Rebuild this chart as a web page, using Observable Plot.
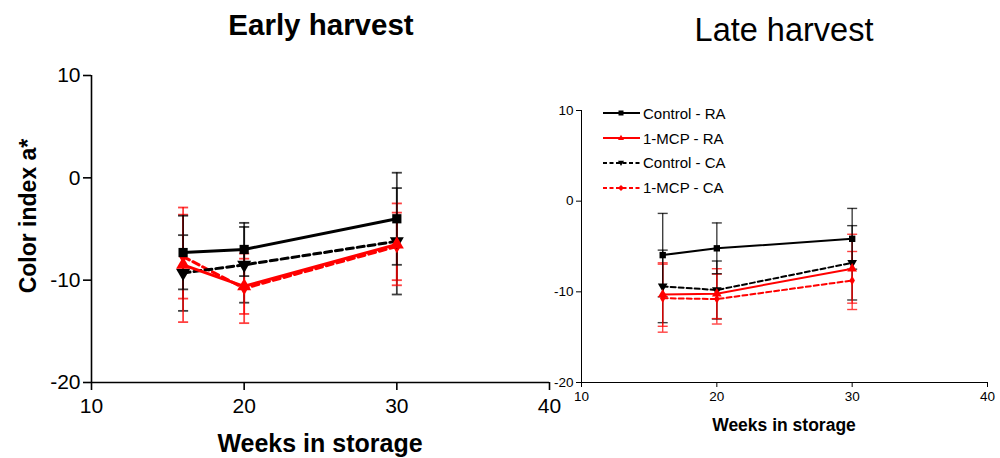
<!DOCTYPE html>
<html><head><meta charset="utf-8">
<script src="https://cdn.jsdelivr.net/npm/d3@7"></script>
<script src="https://cdn.jsdelivr.net/npm/@observablehq/plot@0.6"></script>
<style>
body{margin:0;background:#fff;font-family:"Liberation Sans",Arial,sans-serif;}
#root{position:relative;width:1000px;height:458px;overflow:hidden;background:#fff;}
.abs{position:absolute;}
.ctr{position:absolute;transform:translate(-50%,-50%);white-space:nowrap;color:#000;line-height:1;}
.leg{position:absolute;left:603px;top:101px;font-size:15px;color:#000;}
.leg div{height:24.8px;display:flex;align-items:center;}
.leg svg{margin-right:3px;}
</style></head><body><div id="root"></div>
<script>
const weeks = [16, 20, 30];
const xTicks = [10, 20, 30, 40];
const yTicks = [-20, -10, 0, 10];
const seriesNames = ["Control - RA", "1-MCP - RA", "Control - CA", "1-MCP - CA"];
const seriesColors = ["#000000", "#ff0000", "#000000", "#ff0000"];
const seriesDashed = [false, false, true, true];
const seriesSymbols = ["square", "triangle", "triangle-down", "diamond"];

// Early harvest
const earlyControlRA = [-7.3, -7.0, -4.0];
const earlyControlRASd = [3.6, 2.6, 4.5];
const early1MCPRA = [-8.5, -10.6, -6.5];
const early1MCPRASd = [5.6, 2.7, 4.0];
const earlyControlCA = [-9.3, -8.5, -6.2];
const earlyControlCASd = [3.7, 3.7, 5.2];
const early1MCPCA = [-7.7, -10.8, -6.7];
const early1MCPCASd = [4.1, 3.4, 3.3];

// Late harvest
const lateControlRA = [-5.95, -5.2, -4.15];
const lateControlRASd = [4.6, 2.8, 3.35];
const late1MCPRA = [-10.3, -10.2, -7.45];
const late1MCPRASd = [3.5, 2.75, 3.8];
const lateControlCA = [-9.4, -9.8, -6.8];
const lateControlCASd = [4.0, 3.2, 4.1];
const late1MCPCA = [-10.7, -10.8, -8.75];
const late1MCPCASd = [3.75, 2.75, 3.2];

function rows(means, sds) {
  const out = [];
  seriesNames.forEach((s, i) => {
    weeks.forEach((w, j) => out.push({series: s, idx: i, week: w, mean: means[i][j], sd: sds[i][j]}));
  });
  return out;
}
const earlyRows = rows([earlyControlRA, early1MCPRA, earlyControlCA, early1MCPCA],
                       [earlyControlRASd, early1MCPRASd, earlyControlCASd, early1MCPCASd]);
const lateRows = rows([lateControlRA, late1MCPRA, lateControlCA, late1MCPCA],
                      [lateControlRASd, late1MCPRASd, lateControlCASd, late1MCPCASd]);

const FONT = "'Liberation Sans', Arial, sans-serif";

function panel(data, o) {
  const marks = [
    Plot.axisY({ticks: yTicks, tickSize: o.tick, tickPadding: o.padY, label: null, tickFormat: d => String(d), strokeWidth: o.axisW, fontSize: o.fs, fontFamily: FONT}),
    Plot.axisX({ticks: xTicks, tickSize: o.tick, tickPadding: o.padX, label: null, tickFormat: d => String(d), strokeWidth: o.axisW, fontSize: o.fs, fontFamily: FONT}),
    Plot.ruleX([10], {strokeWidth: o.axisW}),
    Plot.ruleY([-20], {strokeWidth: o.axisW})
  ];
  [3, 2, 1, 0].forEach(i => {
    const d = data.filter(r => r.idx === i);
    const c = seriesColors[i];
    marks.push(Plot.ruleX(d, {x: "week", y1: r => r.mean - r.sd, y2: r => r.mean + r.sd, stroke: c, strokeWidth: o.errW, strokeOpacity: 0.75}));
    marks.push(Plot.link(d, {x1: r => r.week - o.cap, x2: r => r.week + o.cap, y1: r => r.mean + r.sd, y2: r => r.mean + r.sd, stroke: c, strokeWidth: o.errW, strokeOpacity: 0.75}));
    marks.push(Plot.link(d, {x1: r => r.week - o.cap, x2: r => r.week + o.cap, y1: r => r.mean - r.sd, y2: r => r.mean - r.sd, stroke: c, strokeWidth: o.errW, strokeOpacity: 0.75}));
  });
  [3, 2, 1, 0].forEach(i => {
    const d = data.filter(r => r.idx === i);
    const c = seriesColors[i];
    marks.push(Plot.line(d, {x: "week", y: "mean", stroke: c, strokeWidth: o.lineW, strokeDasharray: seriesDashed[i] ? o.dash : null}));
    const sym = seriesSymbols[i];
    if (sym === "triangle-down") {
      marks.push(Plot.dot(d, {x: "week", y: "mean", symbol: "triangle", rotate: 180, fill: c, stroke: "none", r: o.r}));
    } else {
      marks.push(Plot.dot(d, {x: "week", y: "mean", symbol: sym, fill: c, stroke: "none", r: sym === "diamond" ? o.r * 0.8 : o.r}));
    }
  });
  return Plot.plot({
    width: o.width, height: 458,
    marginLeft: o.ml, marginRight: o.mr, marginTop: o.mt, marginBottom: o.mb,
    x: {domain: [10, 40]}, y: {domain: [-20, 10]},
    style: {background: "transparent", fontSize: o.fs + "px", fontFamily: FONT, color: "#000", overflow: "visible"},
    marks
  });
}

const root = document.getElementById("root");
const left = panel(earlyRows, {width: 570, ml: 91, mr: 21, mt: 75, mb: 76, fs: 21, tick: 8, padX: 8, padY: 3, axisW: 1.6, errW: 1.8, lineW: 3, dash: "7,4", cap: 0.33, r: 5.2});
left.classList.add("abs"); left.style.left = "0px"; left.style.top = "0px";
root.appendChild(left);
const right = panel(lateRows, {width: 460, ml: 41, mr: 13, mt: 110, mb: 76, fs: 13.5, tick: 5, padX: 4, padY: 3, axisW: 1, errW: 1.4, lineW: 2, dash: "5,3", cap: 0.37, r: 3.6});
right.classList.add("abs"); right.style.left = "540px"; right.style.top = "0px";
root.appendChild(right);

function txt(s, x, y, css) {
  const d = document.createElement("div");
  d.className = "ctr"; d.textContent = s;
  d.style.left = x + "px"; d.style.top = y + "px";
  Object.assign(d.style, css);
  root.appendChild(d);
}
txt("Early harvest", 321, 25, {fontSize: "29.5px", fontWeight: "bold"});
txt("Late harvest", 784, 30, {fontSize: "32.5px"});
txt("Color index a*", 28, 216, {fontSize: "23px", fontWeight: "bold", transform: "translate(-50%,-50%) rotate(-90deg)"});
txt("Weeks in storage", 320, 443, {fontSize: "25px", fontWeight: "bold"});
txt("Weeks in storage", 784, 426, {fontSize: "17.5px", fontWeight: "bold"});

// legend
const leg = document.createElement("div");
leg.className = "leg";
const shapes = {
  "square": '<rect x="15.5" y="3.5" width="5" height="5"/>',
  "triangle": '<polygon points="18,2.8 21,8 15,8"/>',
  "triangle-down": '<polygon points="15,3.8 21,3.8 18,9"/>',
  "diamond": '<polygon points="18,3 21,6 18,9 15,6"/>'
};
seriesNames.forEach((s, i) => {
  const c = seriesColors[i];
  const row = document.createElement("div");
  row.innerHTML = `<svg width="37" height="12"><line x1="0" x2="37" y1="6" y2="6" stroke="${c}" stroke-width="2" ${seriesDashed[i] ? 'stroke-dasharray="4,2.5"' : ''}/><g fill="${c}">${shapes[seriesSymbols[i]]}</g></svg><span>${s}</span>`;
  leg.appendChild(row);
});
root.appendChild(leg);
</script>
</body></html>
